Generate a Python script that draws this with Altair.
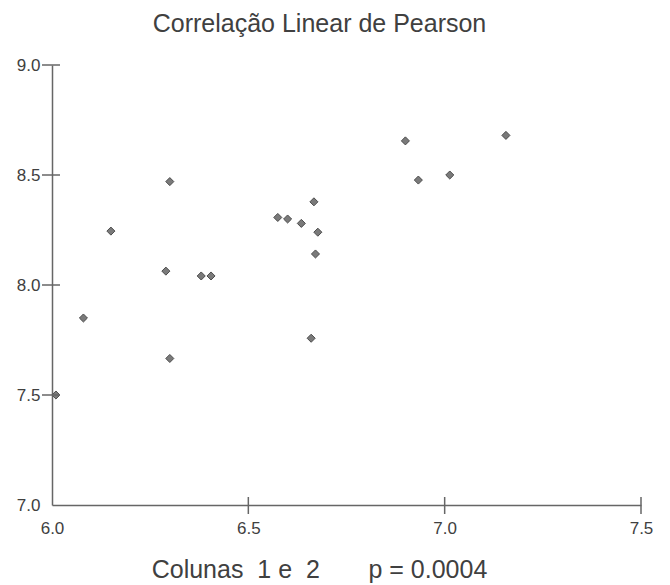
import altair as alt
import pandas as pd

# Data
col1 = [6.01, 6.08, 6.15, 6.30, 6.29, 6.38, 6.405, 6.30, 6.575, 6.60,
        6.635, 6.667, 6.677, 6.671, 6.66, 6.90, 6.933, 7.013, 7.156]
col2 = [7.50, 7.85, 8.245, 8.47, 8.063, 8.041, 8.041, 7.666, 8.307, 8.30,
        8.28, 8.378, 8.24, 8.141, 7.758, 8.655, 8.477, 8.50, 8.68]

x_labels = [6.0, 6.5, 7.0, 7.5]
y_labels = [7.0, 7.5, 8.0, 8.5, 9.0]
x_ticks = [6.5, 7.0, 7.5]
y_ticks = [7.5, 8.0, 8.5, 9.0]

title_text = "Correlação Linear de Pearson"
x_title = "Colunas\u00a0\u00a01\u00a0e\u00a0\u00a02\u00a0\u00a0\u00a0\u00a0\u00a0\u00a0\u00a0p\u00a0=\u00a00.0004"

W, H = 589, 440
GRAY = "#666666"
TXT = "#404040"
FONT = "Liberation Sans"

df = pd.DataFrame({"c1": col1, "c2": col2})
xt = pd.DataFrame({"v": x_ticks})
yt = pd.DataFrame({"v": y_ticks})

xscale = alt.Scale(domain=[6.0, 7.5], nice=False, zero=False)
yscale = alt.Scale(domain=[7.0, 9.0], nice=False, zero=False)

points = alt.Chart(df).mark_point(
    shape="diamond", filled=True, fill="#7a7a7a", stroke="#4d4d4d",
    strokeWidth=1, size=65, opacity=1
).encode(
    x=alt.X("c1:Q", scale=xscale,
            axis=alt.Axis(values=x_labels, format=".1f", ticks=False,
                          title=x_title, titleX=267, titleY=72,
                          titleAlign="center", titleBaseline="alphabetic",
                          titleFontSize=25, titleFontWeight="normal",
                          titleColor=TXT, labelPadding=15,
                          labelFontSize=17, labelColor=TXT, grid=False,
                          domainColor=GRAY, domainWidth=1.5,
                          labelFlush=False)),
    y=alt.Y("c2:Q", scale=yscale,
            axis=alt.Axis(values=y_labels, format=".1f", ticks=False,
                          title=None, labelPadding=12, labelFontSize=17,
                          labelColor=TXT, grid=False, domainColor=GRAY,
                          domainWidth=1.5, labelFlush=False)),
)

xtick_rules = alt.Chart(xt).mark_rule(color=GRAY, strokeWidth=1.5).encode(
    x=alt.X("v:Q", scale=xscale),
    y=alt.value(H - 8), y2=alt.value(H + 9),
)
ytick_rules = alt.Chart(yt).mark_rule(color=GRAY, strokeWidth=1.5).encode(
    y=alt.Y("v:Q", scale=yscale),
    x=alt.value(-10), x2=alt.value(8),
)

chart = alt.layer(points, xtick_rules, ytick_rules).properties(
    width=W, height=H,
    title=alt.TitleParams(title_text, fontSize=25, fontWeight="normal",
                          color=TXT, anchor="middle", frame="group",
                          dx=-27, dy=1, baseline="alphabetic", offset=0),
    autosize=alt.AutoSizeParams(type="none"),
    padding={"left": 44, "top": 57, "right": 20, "bottom": 78},
).configure(font=FONT).configure_view(stroke=None)

chart.save("out.html", embed_options={"renderer": "svg", "actions": False})
